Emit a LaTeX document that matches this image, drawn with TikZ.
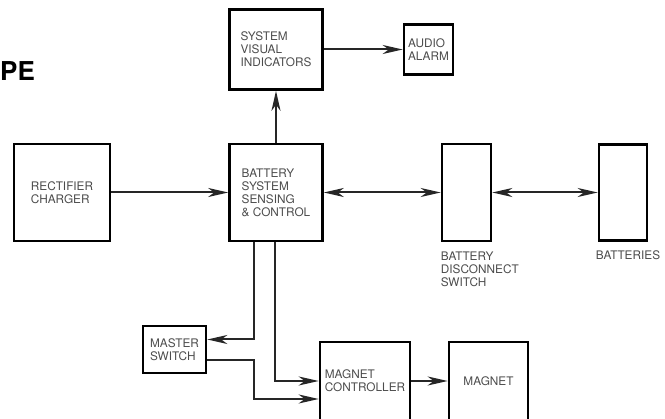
\documentclass[tikz,border=0pt]{standalone}
\usepackage{fontspec}
\setmainfont{TeX Gyre Heros}
\usetikzlibrary{arrows.meta, positioning}

\begin{document}
\begin{tikzpicture}[
    x=1pt, y=-1pt,
    unit/.style={draw=black, line width=2.6pt, inner sep=2pt, align=left,
        text=black!70, font=\fontsize{11.8}{13}\selectfont},
    caption/.style={inner sep=0pt, align=left, text=black!70,
        font=\fontsize{11.8}{13}\selectfont},
    edge/.style={line width=2pt, draw=black!85,
        -{Stealth[length=20pt, width=9pt, inset=6pt]}},
    twoway/.style={edge, {Stealth[length=20pt, width=9pt, inset=6pt]}-{Stealth[length=20pt, width=9pt, inset=6pt]}}
]
\useasboundingbox (0,0) rectangle (665,419);
\clip (0,0) rectangle (665,419);

% Title fragment
\node[inner sep=0pt, anchor=west, font=\fontsize{26}{26}\selectfont\bfseries] (title) at (0,71) {PE};

% Top row
\node[unit, minimum width=93pt, minimum height=80pt] (svi) at (276,49.5) {SYSTEM\\VISUAL\\INDICATORS};
\node[unit, minimum width=49pt, minimum height=50pt] (alarm) at (428.5,49.5) {AUDIO\\ALARM};

% Middle row
\node[unit, minimum width=96pt, minimum height=97pt] (rect) at (62,192.5) {RECTIFIER\\CHARGER};
\node[unit, minimum width=93pt, minimum height=97pt] (sense) at (276,192.5) {BATTERY\\SYSTEM\\SENSING\\\& CONTROL};
\node[unit, minimum width=49pt, minimum height=97pt] (disc) at (466.5,192.5) {};
\node[unit, minimum width=48pt, minimum height=96pt] (batt) at (623,192.5) {};

\node[caption, below right=9pt and 0pt of disc.south west] (disclbl) {BATTERY\\DISCONNECT\\SWITCH};
\node[caption, below right=9pt and -2pt of batt.south west] (battlbl) {BATTERIES};

% Bottom row
\node[unit, minimum width=63pt, minimum height=47pt] (master) at (174.5,349.5) {MASTER\\SWITCH};
\node[unit, minimum width=90pt, minimum height=78pt] (mc) at (365,381) {MAGNET\\CONTROLLER};
\node[unit, minimum width=79pt, minimum height=78pt] (mag) at (488.5,381) {MAGNET};

% Connections
\draw[edge] (rect) -- (sense);
\draw[edge] (sense) -- (svi);
\draw[edge] (svi) -- (alarm);
\draw[twoway] (sense) -- (disc);
\draw[twoway] (disc) -- (batt);
\draw[edge] ([xshift=-22pt]sense.south) |- ([yshift=10pt]master.east);
\draw[edge] ([xshift=-1pt]sense.south) |- (mc.west);
\draw[edge] ([yshift=-10.5pt]master.east) -- ++(47,0) |- ([yshift=-18pt]mc.west);
\draw[edge] (mc) -- (mag);

\end{tikzpicture}
\end{document}
